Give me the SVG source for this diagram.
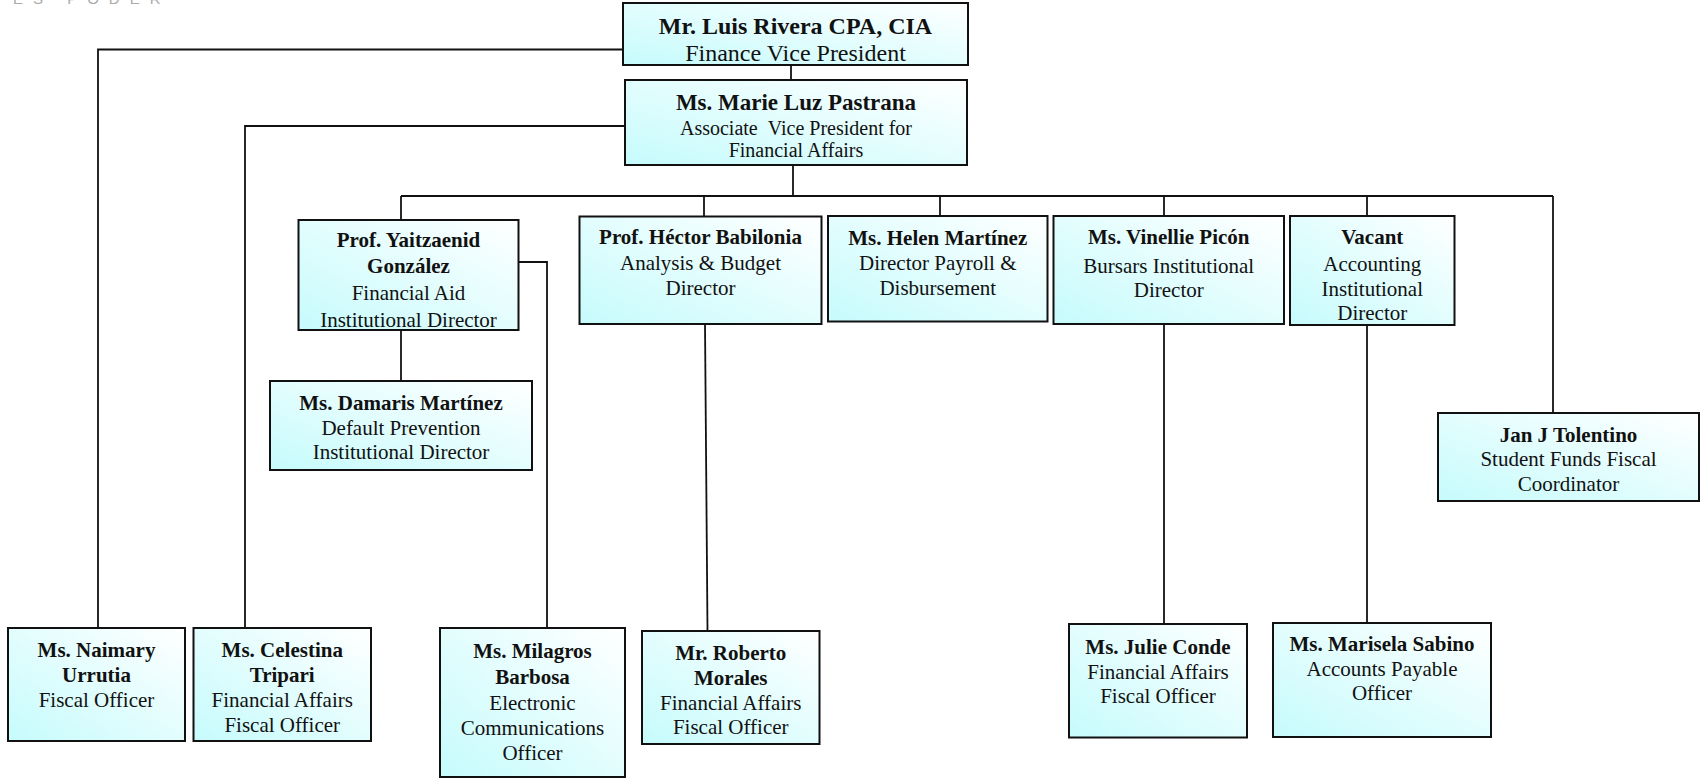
<svg xmlns="http://www.w3.org/2000/svg" width="1702" height="779" viewBox="0 0 1702 779">
<defs>
<linearGradient id="fill" x1="0" y1="1" x2="1" y2="0">
<stop offset="0" stop-color="#c6fbfc"/>
<stop offset="1" stop-color="#ffffff"/>
</linearGradient>
<style>
.box{fill:url(#fill);stroke:#111;stroke-width:2}
.ln{fill:none;stroke:#111;stroke-width:1.8}
text{font-family:"Liberation Serif","Times New Roman",serif;fill:#111;text-anchor:middle}
.n{font-weight:bold;font-size:21px}
.t{font-size:21px}
.wm{font-family:"Liberation Sans",Arial,sans-serif;font-size:15px;fill:#aaa;text-anchor:start;letter-spacing:10px}
</style>
</defs>
<rect width="1702" height="779" fill="#fff"/>
<text class="wm" x="13" y="4">ES PODER</text>
<g id="connectors">
<path class="ln" d="M623,49.5H98V628"/>
<path class="ln" d="M625,126H245V628"/>
<path class="ln" d="M791,65V80"/>
<path class="ln" d="M793,165V196"/>
<path class="ln" d="M401,196H1553"/>
<path class="ln" d="M401,196V220"/>
<path class="ln" d="M704,196V216.5"/>
<path class="ln" d="M940,196V216"/>
<path class="ln" d="M1164,196V216"/>
<path class="ln" d="M1367,196V216"/>
<path class="ln" d="M1553,196V413"/>
<path class="ln" d="M401,330V381"/>
<path class="ln" d="M518.5,262H547V628"/>
<path class="ln" d="M705,324L707.5,631"/>
<path class="ln" d="M1164,324V624"/>
<path class="ln" d="M1367,325V623"/>
</g>
<g id="luis">
<rect class="box" x="623" y="3" width="345" height="62"/>
<text class="n" x="795.5" y="34" style="font-size:24px">Mr. Luis Rivera CPA, CIA</text>
<text class="t" x="795.5" y="61" style="font-size:24px">Finance Vice President</text>
</g>
<g id="marie">
<rect class="box" x="625" y="80" width="342" height="85"/>
<text class="n" x="796" y="110" style="font-size:23px">Ms. Marie Luz Pastrana</text>
<text class="t" x="796" y="135" style="font-size:20px">Associate &#160;Vice President for</text>
<text class="t" x="796" y="157" style="font-size:20px">Financial Affairs</text>
</g>
<g id="yaitzaenid">
<rect class="box" x="298.5" y="220" width="220" height="110"/>
<text class="n" x="408.5" y="247">Prof. Yaitzaenid</text>
<text class="n" x="408.5" y="273">González</text>
<text class="t" x="408.5" y="300">Financial Aid</text>
<text class="t" x="408.5" y="327">Institutional Director</text>
</g>
<g id="damaris">
<rect class="box" x="270" y="381" width="262" height="89"/>
<text class="n" x="401" y="410">Ms. Damaris Martínez</text>
<text class="t" x="401" y="435">Default Prevention</text>
<text class="t" x="401" y="459">Institutional Director</text>
</g>
<g id="hector">
<rect class="box" x="579.5" y="216.5" width="242" height="107.5"/>
<text class="n" x="700.5" y="244">Prof. Héctor Babilonia</text>
<text class="t" x="700.5" y="270">Analysis &amp; Budget</text>
<text class="t" x="700.5" y="295">Director</text>
</g>
<g id="helen">
<rect class="box" x="828" y="216" width="219.5" height="105.5"/>
<text class="n" x="937.75" y="245">Ms. Helen Martínez</text>
<text class="t" x="937.75" y="270">Director Payroll &amp;</text>
<text class="t" x="937.75" y="295">Disbursement</text>
</g>
<g id="vinellie">
<rect class="box" x="1053.5" y="216" width="230.5" height="108"/>
<text class="n" x="1168.75" y="244">Ms. Vinellie Picón</text>
<text class="t" x="1168.75" y="272.5">Bursars Institutional</text>
<text class="t" x="1168.75" y="297">Director</text>
</g>
<g id="vacant">
<rect class="box" x="1290" y="216" width="164.5" height="109"/>
<text class="n" x="1372.25" y="244">Vacant</text>
<text class="t" x="1372.25" y="270.5">Accounting</text>
<text class="t" x="1372.25" y="295.5">Institutional</text>
<text class="t" x="1372.25" y="320">Director</text>
</g>
<g id="jan">
<rect class="box" x="1438" y="413" width="261" height="88"/>
<text class="n" x="1568.5" y="442">Jan J Tolentino</text>
<text class="t" x="1568.5" y="466">Student Funds Fiscal</text>
<text class="t" x="1568.5" y="491">Coordinator</text>
</g>
<g id="naimary">
<rect class="box" x="8" y="628" width="177" height="113"/>
<text class="n" x="96.5" y="657">Ms. Naimary</text>
<text class="n" x="96.5" y="682">Urrutia</text>
<text class="t" x="96.5" y="707">Fiscal Officer</text>
</g>
<g id="celestina">
<rect class="box" x="193.5" y="628" width="177.5" height="113"/>
<text class="n" x="282.25" y="657">Ms. Celestina</text>
<text class="n" x="282.25" y="682">Tripari</text>
<text class="t" x="282.25" y="707">Financial Affairs</text>
<text class="t" x="282.25" y="732">Fiscal Officer</text>
</g>
<g id="milagros">
<rect class="box" x="440" y="628" width="185" height="149"/>
<text class="n" x="532.5" y="658">Ms. Milagros</text>
<text class="n" x="532.5" y="684">Barbosa</text>
<text class="t" x="532.5" y="710">Electronic</text>
<text class="t" x="532.5" y="735">Communications</text>
<text class="t" x="532.5" y="760">Officer</text>
</g>
<g id="roberto">
<rect class="box" x="642" y="631" width="177.5" height="113"/>
<text class="n" x="730.75" y="660">Mr. Roberto</text>
<text class="n" x="730.75" y="685">Morales</text>
<text class="t" x="730.75" y="710">Financial Affairs</text>
<text class="t" x="730.75" y="734">Fiscal Officer</text>
</g>
<g id="julie">
<rect class="box" x="1069" y="624" width="178" height="113.5"/>
<text class="n" x="1158" y="654">Ms. Julie Conde</text>
<text class="t" x="1158" y="679">Financial Affairs</text>
<text class="t" x="1158" y="703">Fiscal Officer</text>
</g>
<g id="marisela">
<rect class="box" x="1273" y="623" width="218" height="114"/>
<text class="n" x="1382" y="651">Ms. Marisela Sabino</text>
<text class="t" x="1382" y="676">Accounts Payable</text>
<text class="t" x="1382" y="700">Officer</text>
</g>
</svg>
